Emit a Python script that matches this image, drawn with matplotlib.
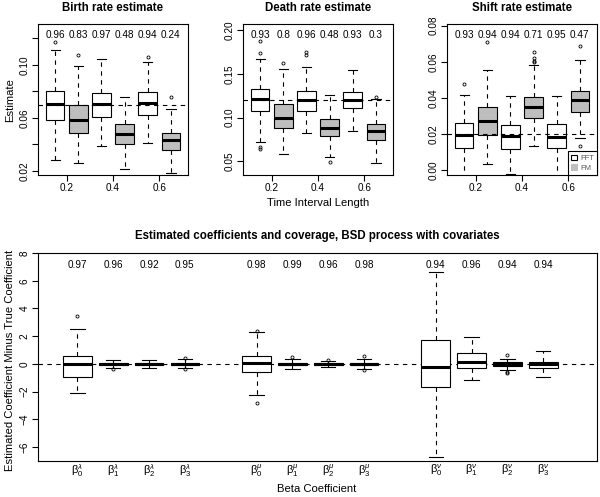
import matplotlib
matplotlib.use('Agg')
import matplotlib.pyplot as plt
from matplotlib.patches import Patch

plt.rcParams['font.family'] = ['Liberation Sans', 'DejaVu Sans']
plt.rcParams['mathtext.fontset'] = 'custom'
plt.rcParams['mathtext.rm'] = 'Liberation Sans'
plt.rcParams['mathtext.it'] = 'Liberation Sans:italic'
plt.rcParams['mathtext.bf'] = 'Liberation Sans:bold'

# ---------------- data: top panels (order FFT .2, FM .2, FFT .4, FM .4, FFT .6, FM .6)
interval_labels = ['0.2', '0.4', '0.6']
methods = ['FFT', 'FM']

birth_med = [0.0705, 0.0584, 0.0702, 0.0478, 0.0712, 0.0432]
birth_q1 = [0.0584, 0.0488, 0.0604, 0.0407, 0.0619, 0.0361]
birth_q3 = [0.0803, 0.0695, 0.0785, 0.0553, 0.0796, 0.0488]
birth_lo = [0.0281, 0.0260, 0.0392, 0.0213, 0.0414, 0.0185]
birth_hi = [0.1109, 0.0990, 0.1043, 0.0758, 0.1025, 0.0667]
birth_fliers = [[0.1169], [0.1076], [], [], [0.1060], [0.0760]]
birth_cov = ['0.96', '0.83', '0.97', '0.48', '0.94', '0.24']
birth_true = 0.07

death_med = [0.1208, 0.0991, 0.1200, 0.0884, 0.1204, 0.0842]
death_q1 = [0.1075, 0.0880, 0.1078, 0.0789, 0.1109, 0.0740]
death_q3 = [0.1330, 0.1158, 0.1303, 0.0983, 0.1288, 0.0926]
death_lo = [0.0724, 0.0587, 0.0820, 0.0553, 0.0846, 0.0484]
death_hi = [0.1669, 0.1550, 0.1581, 0.1257, 0.1539, 0.1208]
death_fliers = [[0.1874, 0.1733, 0.0667, 0.0644], [0.1619], [0.1752, 0.1714],
                [0.0488], [], [0.1238]]
death_cov = ['0.93', '0.8', '0.96', '0.48', '0.93', '0.3']
death_true = 0.12

shift_med = [0.0196, 0.0274, 0.0189, 0.0348, 0.0185, 0.0389]
shift_q1 = [0.0126, 0.0196, 0.0118, 0.0291, 0.0124, 0.0322]
shift_q3 = [0.0263, 0.0350, 0.0250, 0.0406, 0.0254, 0.0441]
shift_lo = [-0.0060, 0.0035, -0.0020, 0.0133, -0.0060, 0.0181]
shift_hi = [0.0419, 0.0552, 0.0411, 0.0585, 0.0411, 0.0609]
shift_fliers = [[0.0476], [0.0709], [], [0.0652, 0.0619, 0.0606, 0.0598],
                [], [0.0685, 0.0133]]
shift_cov = ['0.93', '0.94', '0.94', '0.71', '0.95', '0.47']
shift_true = 0.02

# ---------------- data: bottom panel
beta_groups = ['lambda', 'mu', 'nu']
beta_index = ['0', '1', '2', '3']
coef_med = [0.0, 0.0, 0.0, 0.0, 0.07, 0.0, 0.0, 0.0, -0.24, 0.12, 0.02, -0.02]
coef_q1 = [-0.91, -0.10, -0.10, -0.10, -0.55, -0.10, -0.08, -0.10, -1.68, -0.26, -0.12, -0.31]
coef_q3 = [0.55, 0.10, 0.10, 0.10, 0.58, 0.10, 0.08, 0.10, 1.76, 0.77, 0.17, 0.17]
coef_lo = [-2.12, -0.26, -0.26, -0.26, -2.21, -0.34, -0.19, -0.34, -6.71, -1.15, -0.43, -0.94]
coef_hi = [2.53, 0.31, 0.29, 0.34, 2.30, 0.38, 0.24, 0.34, 6.66, 1.95, 0.38, 0.91]
coef_fliers = [[3.44], [-0.38], [], [0.46, -0.36], [2.36, -2.84], [0.50],
               [0.26], [0.55, -0.46], [], [], [0.65, -0.55, -0.63], []]
coef_cov = ['0.97', '0.96', '0.92', '0.95', '0.98', '0.99', '0.96', '0.98',
            '0.94', '0.96', '0.94', '0.94']

GREY = '#BEBEBE'
FS_TICK = 7.2
FS_LAB = 8.1
FS_TITLE = 8.3

fig = plt.figure(figsize=(6.0, 4.97), dpi=100)


def make_stats(med, q1, q3, lo, hi, fl):
    return [dict(med=m, q1=a, q3=b, whislo=l, whishi=h, fliers=f)
            for m, a, b, l, h, f in zip(med, q1, q3, lo, hi, fl)]


def draw_boxes(ax, stats, positions, colors):
    res = ax.bxp(stats, positions=positions, widths=0.8, capwidths=0.4,
                 patch_artist=True, showfliers=True,
                 boxprops=dict(linewidth=0.8, edgecolor='black'),
                 whiskerprops=dict(linewidth=0.8, linestyle=(0, (4, 4)), color='black'),
                 capprops=dict(linewidth=0.8, color='black'),
                 medianprops=dict(linewidth=2.2, color='black', solid_capstyle='butt'),
                 flierprops=dict(marker='o', markersize=2.2, markerfacecolor='none',
                                 markeredgecolor='black', markeredgewidth=0.6,
                                 linestyle='none'))
    for patch, c in zip(res['boxes'], colors):
        patch.set_facecolor(c)
    return res


def style_axes(ax):
    for s in ax.spines.values():
        s.set_linewidth(0.8)
    ax.tick_params(axis='both', direction='out', length=4, width=0.8,
                   labelsize=FS_TICK, pad=2)
    for lab in ax.get_yticklabels():
        lab.set_rotation(90)
        lab.set_va('center')


panel_w = 150 / 600
panel_h = 151 / 497
panel_b = (497 - 175) / 497
lefts = [38 / 600, 243 / 600, 447 / 600]

top_specs = [
    ('Birth rate estimate', make_stats(birth_med, birth_q1, birth_q3, birth_lo, birth_hi, birth_fliers),
     birth_cov, birth_true, (0.0170, 0.1308), [0.02, 0.04, 0.06, 0.08, 0.10, 0.12],
     ['0.02', '', '0.06', '', '0.10', '']),
    ('Death rate estimate', make_stats(death_med, death_q1, death_q3, death_lo, death_hi, death_fliers),
     death_cov, death_true, (0.0344, 0.2069), [0.05, 0.10, 0.15, 0.20],
     ['0.05', '0.10', '0.15', '0.20']),
    ('Shift rate estimate', make_stats(shift_med, shift_q1, shift_q3, shift_lo, shift_hi, shift_fliers),
     shift_cov, shift_true, (-0.0026, 0.0809), [0.00, 0.02, 0.04, 0.06, 0.08],
     ['0.00', '0.02', '0.04', '0.06', '0.08']),
]

positions = list(range(1, 7))
colors = ['white', GREY] * 3

axes_top = []
for left, (title, stats, cov, true_v, ylim, yt, ytl) in zip(lefts, top_specs):
    ax = fig.add_axes([left, panel_b, panel_w, panel_h])
    draw_boxes(ax, stats, positions, colors)
    ax.axhline(true_v, color='black', linewidth=0.8, linestyle=(0, (4, 4)), zorder=3)
    ax.set_xlim(0.26, 6.74)
    ax.set_ylim(*ylim)
    ax.set_xticks([1.5, 3.5, 5.5])
    ax.set_xticklabels(interval_labels)
    ax.set_yticks(yt)
    ax.set_yticklabels(ytl)
    style_axes(ax)
    for p, c in zip(positions, cov):
        ax.text(p, 0.927, c, transform=ax.get_xaxis_transform(), ha='center',
                va='center', fontsize=FS_TICK)
    ax.text(0.5, 1 + 16 / 151, title, transform=ax.transAxes, ha='center',
            va='center', fontsize=FS_TITLE, fontweight='bold')
    axes_top.append(ax)

# legend in shift panel
handles = [Patch(facecolor='white', edgecolor='black', linewidth=0.8),
           Patch(facecolor=GREY, edgecolor=GREY, linewidth=0.8)]
leg = axes_top[2].legend(handles, methods, loc='lower right', fontsize=5.5,
                         frameon=True, fancybox=False, borderaxespad=0.0,
                         handlelength=0.8, handleheight=0.8, handletextpad=0.4,
                         borderpad=0.4, labelspacing=0.3, framealpha=1)
leg.get_frame().set_edgecolor('black')
leg.get_frame().set_linewidth(0.8)
for t in leg.get_texts():
    t.set_color('#555555')

fig.text(10 / 600, 1 - 100 / 497, 'Estimate', rotation=90, ha='center',
         va='center', fontsize=FS_LAB)
fig.text(318 / 600, 1 - 203 / 497, 'Time Interval Length', ha='center',
         va='center', fontsize=FS_LAB)

# ---------------- bottom panel
axb = fig.add_axes([38 / 600, (497 - 461) / 497, 559 / 600, 208 / 497])
bpos = [1, 2, 3, 4, 6, 7, 8, 9, 11, 12, 13, 14]
bstats = make_stats(coef_med, coef_q1, coef_q3, coef_lo, coef_hi, coef_fliers)
draw_boxes(axb, bstats, bpos, ['white'] * len(bpos))
axb.axhline(0, color='black', linewidth=0.8, linestyle=(0, (4, 4)), zorder=0.5)
axb.set_xlim(-0.1, 15.5)
axb.set_ylim(-7.0, 8.0)
axb.set_yticks([-6, -4, -2, 0, 2, 4, 6, 8])
axb.set_yticklabels(['\u22126', '\u22124', '\u22122', '0', '2', '4', '6', '8'])
blabels = []
for g in beta_groups:
    for i in beta_index:
        blabels.append(r'$\mathrm{\beta}_{%s}^{\%s}$' % (i, g))
axb.set_xticks(bpos)
axb.set_xticklabels(blabels)
style_axes(axb)
axb.tick_params(axis='x', length=0, pad=1, labelsize=8)
for p, c in zip(bpos, coef_cov):
    axb.text(p, 7.17, c, ha='center', va='center', fontsize=FS_TICK)
axb.text(0.5, 1 + 17 / 208, 'Estimated coefficients and coverage, BSD process with covariates',
         transform=axb.transAxes, ha='center', va='center', fontsize=FS_TITLE,
         fontweight='bold')
fig.text(317 / 600, 1 - 489 / 497, 'Beta Coefficient', ha='center', va='center',
         fontsize=FS_LAB)
fig.text(10 / 600, 1 - 360 / 497, 'Estimated Coefficient Minus True Coefficient',
         rotation=90, ha='center', va='center', fontsize=FS_LAB)

fig.savefig('out.png', dpi=100)
